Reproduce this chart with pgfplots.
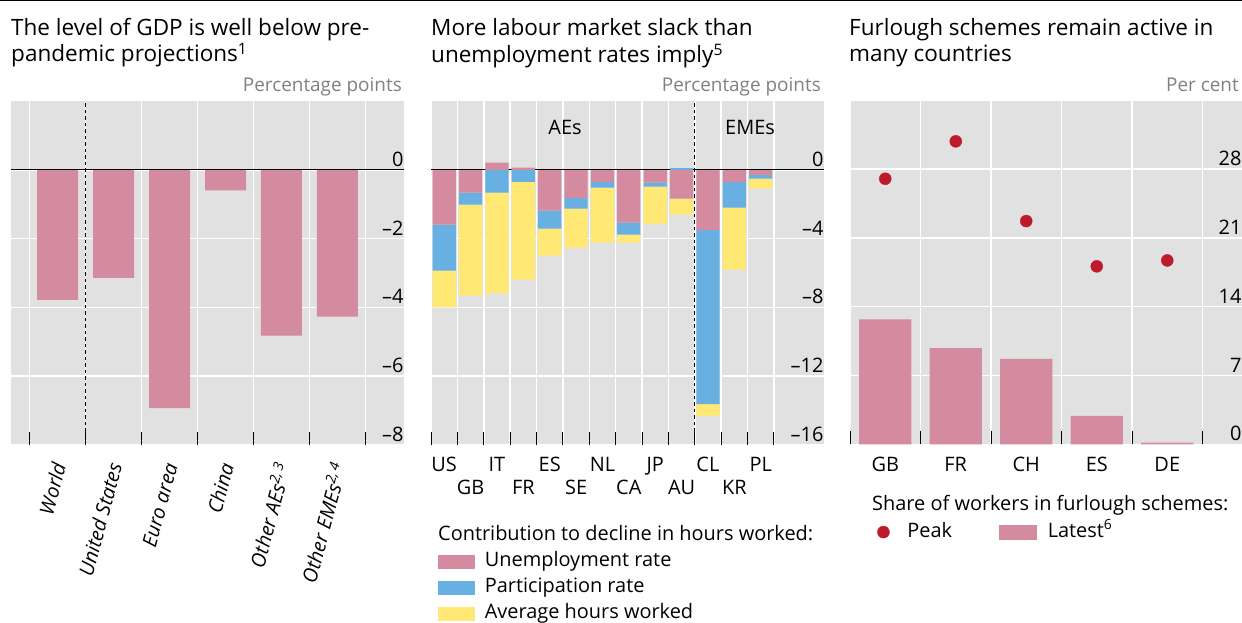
\documentclass[border=0pt]{standalone}
\usepackage{pgfplots}
\pgfplotsset{compat=1.18}
\usepackage{pgfplotstable}
\usepackage{fontspec}
\setmainfont{Open Sans}
\definecolor{pinkb}{HTML}{D48A9F}
\definecolor{blueb}{HTML}{69B0E2}
\definecolor{yelb}{HTML}{FFE874}
\definecolor{redd}{HTML}{BE1A2C}
\definecolor{bgc}{HTML}{E1E1E1}
\definecolor{unitc}{HTML}{808080}
\newcommand\tf{\fontsize{22.6}{26}\selectfont}
\newcommand\lf{\fontsize{20}{24}\selectfont}
\newcommand\uf{\fontsize{19}{22}\selectfont}

\pgfplotstableread{
x v
0 -3.78
1 -3.14
2 -6.93
3 -0.60
4 -4.82
5 -4.27
}\gdp

% negative contributions (stacked downward)
\pgfplotstableread{
x u p h
0 -3.19 -2.67 -2.14
1 -1.33 -0.70 -5.28
2 0 -1.33 -5.86
3 0 -0.70 -5.68
4 -2.38 -1.04 -1.57
5 -1.64 -0.62 -2.26
6 -0.71 -0.33 -3.19
7 -3.07 -0.70 -0.46
8 -0.75 -0.23 -2.16
9 -1.68 0 -0.93
10 -3.50 -10.13 -0.68
11 -0.71 -1.49 -3.61
12 -0.29 -0.23 -0.56
}\hoursneg

% positive contributions
\pgfplotstableread{
x u p
0 0 0
1 0 0
2 0.41 0
3 0.12 0
4 0 0
5 0 0
6 0 0
7 0 0
8 0 0
9 0 0.10
10 0 0
11 0 0
12 0 0
}\hourspos

\pgfplotstableread{
x latest peak
0 12.7 27.0
1 9.8 30.8
2 8.7 22.7
3 2.9 18.1
4 0.2 18.7
}\furlough

\pgfplotsset{
  panel/.style={
    scale only axis, anchor=south west,
    axis background/.style={fill=bgc},
    axis line style={draw=none},
    xmajorgrids, ymajorgrids,
    major grid style={white, line width=1.5bp},
    tick align=inside,
    xtick pos=left, ytick pos=right, yticklabel pos=right,
    y tick style={draw=none},
    x tick style={black, line width=1bp},
    major tick length=13bp,
    tick label style={font=\lf},
    yticklabel style={anchor=south east, xshift=3bp},
    xticklabel style={yshift=-9bp},
    x tick label as interval,
  },
  swatch/.style={legend image code/.code={\fill[#1] (0bp,-7.2bp) rectangle (37bp,7.2bp);}},
}

\begin{document}
\begin{tikzpicture}[x=1bp,y=1bp]
\path[use as bounding box] (0bp,0bp) rectangle (1242bp,623bp);
\draw[black,line width=1.5bp] (0bp,622.25bp) -- (1242bp,622.25bp);

% ---------------- Panel 1 ----------------
\begin{axis}[panel, at={(11bp,178bp)}, width=393bp, height=344bp,
  xmin=-0.834, xmax=6.19, ymin=-8, ymax=2,
  xtick={-0.5,0.5,1.5,2.5,3.5,4.5,5.5},
  xticklabels={World,United States,Euro area,China,Other AEs\textsuperscript{2,\,3},Other EMEs\textsuperscript{2,\,4}},
  xticklabel style={xshift=2.5bp, yshift=-6bp, rotate=75, anchor=east, font=\lf\itshape},
  ytick={-8,-6,-4,-2,0}, yticklabels={–8,–6,–4,–2,0}]
\addplot[ybar, bar width=41bp, fill=pinkb, draw=none] table[x=x,y=v]{\gdp};
\draw[black, line width=1bp, dash pattern=on 3.5bp off 3bp] (axis cs:0.5,-8) -- (axis cs:0.5,2);
\draw[black, line width=1.2bp] (axis cs:-0.834,0) -- (axis cs:6.19,0);
\end{axis}

% ---------------- Panel 2 ----------------
\begin{axis}[panel, at={(431bp,178bp)}, width=393bp, height=344bp,
  xmin=-0.5, xmax=14.4, ymin=-16, ymax=4,
  xtick={-0.5,0.5,1.5,2.5,3.5,4.5,5.5,6.5,7.5,8.5,9.5,10.5,11.5,12.5},
  xticklabels={US,,IT,,ES,,NL,,JP,,CL,,PL},
  ytick={-16,-12,-8,-4,0}, yticklabels={–16,–12,–8,–4,0},
  ybar stacked, bar width=23.3bp,
  legend style={at={(axis description cs:0.017,-0.310)}, anchor=north west,
    draw=none, fill=none, font=\lf, inner sep=0pt, column sep=9bp, row sep=6bp,
    nodes={inner sep=1bp, text height=14bp, text depth=4bp}},
  legend cell align=left]
\addplot[fill=pinkb, draw=none, swatch=pinkb] table[x=x,y=u]{\hoursneg};
\addlegendentry{Unemployment rate}
\addplot[fill=blueb, draw=none, swatch=blueb] table[x=x,y=p]{\hoursneg};
\addlegendentry{Participation rate}
\addplot[fill=yelb, draw=none, swatch=yelb] table[x=x,y=h]{\hoursneg};
\addlegendentry{Average hours worked}
\end{axis}
\begin{axis}[scale only axis, anchor=south west, at={(431bp,178bp)}, width=393bp, height=344bp,
  xmin=-0.5, xmax=14.4, ymin=-16, ymax=4,
  axis line style={draw=none}, ytick=\empty,
  xtick={1,3,5,7,9,11}, xticklabels={GB,FR,SE,CA,AU,KR},
  major tick length=0pt, x tick style={draw=none},
  tick label style={font=\lf}, xticklabel style={yshift=-32bp},
  ybar stacked, bar width=23.3bp]
\addplot[fill=pinkb, draw=none] table[x=x,y=u]{\hourspos};
\addplot[fill=blueb, draw=none] table[x=x,y=p]{\hourspos};
\draw[black, line width=1bp, dash pattern=on 3.5bp off 3bp] (axis cs:9.5,-16) -- (axis cs:9.5,4);
\draw[black, line width=1.2bp] (axis cs:-0.5,0) -- (axis cs:14.4,0);
\end{axis}

% ---------------- Panel 3 ----------------
\begin{axis}[panel, at={(850bp,178.5bp)}, width=392bp, height=343.5bp,
  xmin=-0.5, xmax=5.06, ymin=0, ymax=34.9,
  xtick={-0.5,0.5,1.5,2.5,3.5,4.5},
  xticklabels={GB,FR,CH,ES,DE},
  ytick={0,7,14,21,28}, yticklabels={0,7,14,21,28},
  legend columns=2,
  legend style={at={(axis description cs:0.069,-0.255)}, anchor=west,
    draw=none, fill=none, font=\lf, inner sep=0pt, column sep=11bp,
    nodes={inner sep=0bp, text height=14bp, text depth=4bp}}]
\addplot[ybar, bar width=52.3bp, fill=pinkb, draw=none, forget plot] table[x=x,y=latest]{\furlough};
\addplot[only marks, mark=*, mark size=6bp, color=redd,
  legend image code/.code={\fill[redd] (6bp,0bp) circle (6bp); \path (18.7bp,0bp);}] table[x=x,y=peak]{\furlough};
\addlegendentry{\makebox[81bp][l]{Peak}}
\addlegendimage{swatch=pinkb}
\addlegendentry{Latest\textsuperscript{6}}
\end{axis}

% ---------------- Texts ----------------
\node[anchor=base west, inner sep=0, font=\tf] at (11bp,587bp) {The level of GDP is well below pre-};
\node[anchor=base west, inner sep=0, font=\tf] at (11bp,561bp) {pandemic projections\textsuperscript{1}};
\node[anchor=base west, inner sep=0, font=\tf] at (431bp,587bp) {More labour market slack than};
\node[anchor=base west, inner sep=0, font=\tf] at (431bp,560bp) {unemployment rates imply\textsuperscript{5}};
\node[anchor=base west, inner sep=0, font=\tf] at (849bp,587bp) {Furlough schemes remain active in};
\node[anchor=base west, inner sep=0, font=\tf] at (849bp,561bp) {many countries};
\node[anchor=base east, inner sep=0, font=\uf, text=unitc] at (402bp,531bp) {Percentage points};
\node[anchor=base east, inner sep=0, font=\uf, text=unitc] at (821bp,531bp) {Percentage points};
\node[anchor=base east, inner sep=0, font=\uf, text=unitc] at (1239bp,531bp) {Per cent};
\node[anchor=base, inner sep=0, font=\lf] at (565bp,488bp) {AEs};
\node[anchor=base, inner sep=0, font=\lf] at (750bp,488bp) {EMEs};
\node[anchor=base west, inner sep=0, font=\lf] at (438bp,82bp) {Contribution to decline in hours worked:};
\node[anchor=base west, inner sep=0, font=\lf] at (872bp,112bp) {Share of workers in furlough schemes:};
\end{tikzpicture}
\end{document}
